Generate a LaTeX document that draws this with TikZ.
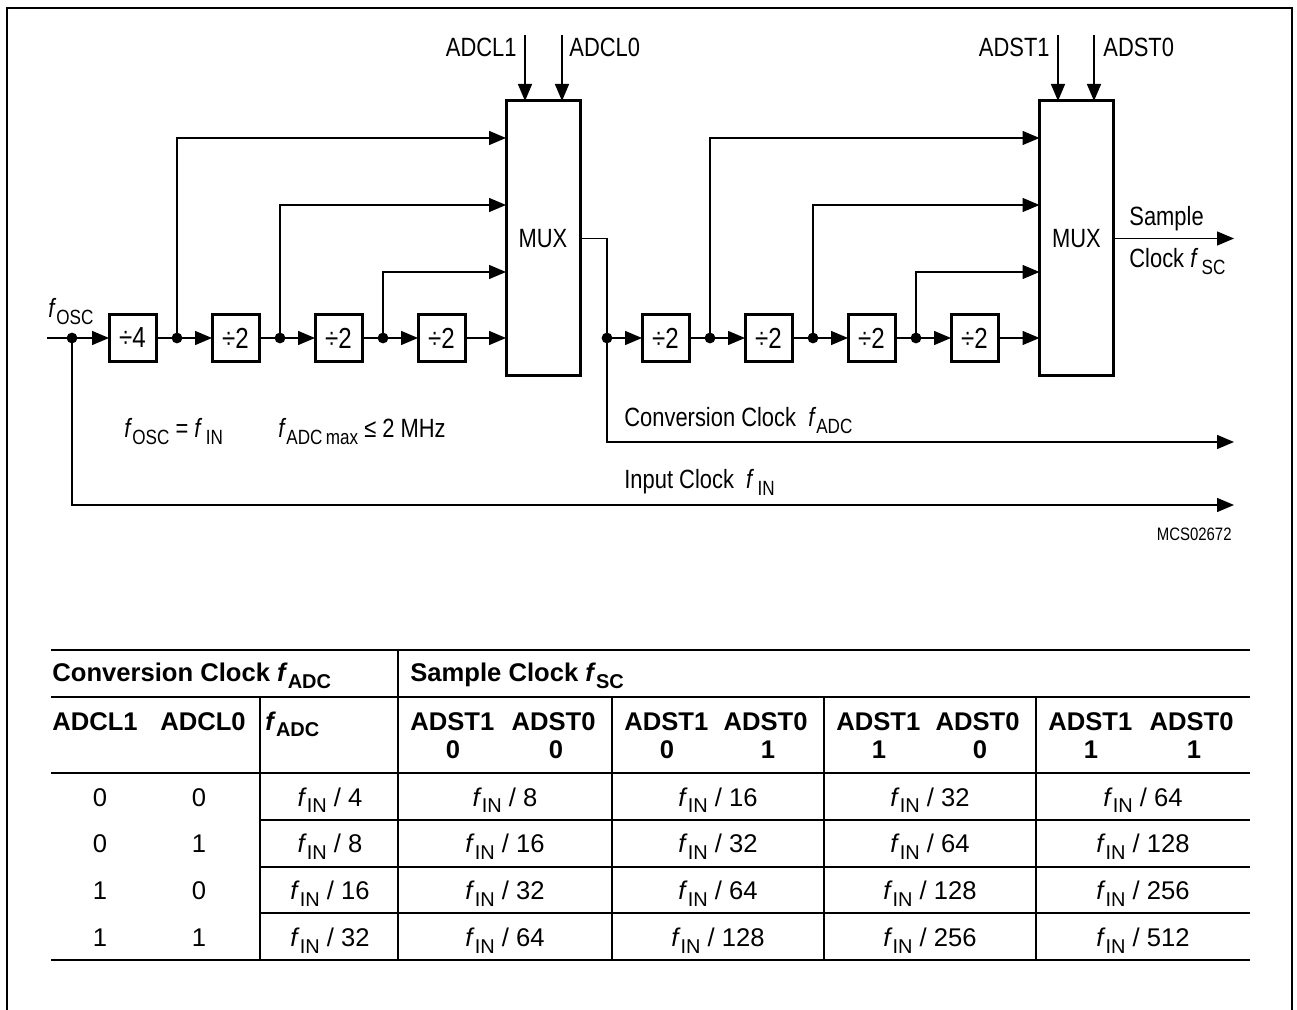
\documentclass[tikz,border=0pt]{standalone}
\usepackage{fontspec}
\usepackage{graphicx}
\setmainfont{Liberation Sans}
\newfontfamily\narrowsf[FakeStretch=0.83]{Liberation Sans}
\usetikzlibrary{arrows.meta, positioning, calc}

\newcommand{\fq}[1]{\textit{f}\raisebox{-0.5ex}{\scalebox{0.78}{#1}}}

\begin{document}
\begin{tikzpicture}[x=0.5pt, y=-0.5pt, >={Triangle[length=8.5pt,width=7pt]}]
  \tikzstyle{sig} = [line width=0.7pt]
  \tikzstyle{divbox} = [rectangle, draw, line width=1.5pt, minimum width=23.5pt, minimum height=23.5pt, inner sep=0pt, outer sep=0pt, font=\narrowsf\fontsize{14.5}{16}\selectfont]
  \tikzstyle{mux} = [rectangle, draw, line width=1.5pt, minimum width=37pt, minimum height=137.5pt, inner sep=0pt, outer sep=0pt, font=\narrowsf\fontsize{13.2}{15}\selectfont]
  \tikzstyle{dot} = [circle, fill, inner sep=0pt, outer sep=0pt, minimum size=5.4pt]
  \tikzstyle{lbl} = [inner sep=0pt, font=\narrowsf\fontsize{13.2}{15}\selectfont]
  \tikzstyle{hdr} = [inner sep=0pt, font=\bfseries\fontsize{12.8}{14}\selectfont]
  \tikzstyle{cell} = [inner sep=0pt, anchor=base, font=\fontsize{12.8}{14}\selectfont]
  \tikzstyle{rule} = [line width=1pt]

  \useasboundingbox (0,0) rectangle (1297,1010);
  \draw[line width=1.2pt] (7,1010) -- (7,8) -- (1292,8) -- (1292,1010);

  % multiplexers
  \node[mux] (mux1) at (543,238.5) {MUX};
  \node[mux] (mux2) at (1076.5,238.5) {MUX};

  % divider chains
  \node[divbox] (q1) at (132.5,338) {÷4};
  \node[divbox, right=28pt of q1] (q2) {÷2};
  \node[divbox, right=28pt of q2] (q3) {÷2};
  \node[divbox, right=28pt of q3] (q4) {÷2};

  \node[divbox] (p1) at (665.5,338) {÷2};
  \node[divbox, right=28pt of p1] (p2) {÷2};
  \node[divbox, right=28pt of p2] (p3) {÷2};
  \node[divbox, right=28pt of p3] (p4) {÷2};

  \node[dot] (d0) at (72,338) {};
  \node[dot, right=7.8pt of q1] (d1) {};
  \node[dot, right=7.8pt of q2] (d2) {};
  \node[dot, right=7.8pt of q3] (d3) {};
  \node[dot] (d4) at (607,338) {};
  \node[dot, right=7.8pt of p1] (e1) {};
  \node[dot, right=7.8pt of p2] (e2) {};
  \node[dot, right=7.8pt of p3] (e3) {};

  \coordinate (osc) at (47,338);
  \coordinate (fsc) at (1234,238.5);
  \coordinate (fadc) at (1234,442);
  \coordinate (fin) at (1234,505);
  \coordinate (sa1) at (525,35);
  \coordinate (sa0) at (562,35);
  \coordinate (sb1) at (1058,35);
  \coordinate (sb0) at (1094,35);

  % labels
  \node[lbl, anchor=base east] (ladcl1) at (517,57) {ADCL1};
  \node[lbl, anchor=base west] (ladcl0) at (569,57) {ADCL0};
  \node[lbl, anchor=base east] (ladst1) at (1050,57) {ADST1};
  \node[lbl, anchor=base west] (ladst0) at (1103,57) {ADST0};
  \node[lbl, anchor=base west] (losc) at (48,318) {\fq{OSC}};
  \node[lbl, anchor=base west] (lsam) at (1129,226) {Sample};
  \node[lbl, anchor=base west] (lclk) at (1129,268) {Clock \fq{\,SC}};
  \node[lbl, anchor=base west] (lconv) at (624,427) {Conversion Clock\ \ \fq{ADC}};
  \node[lbl, anchor=base west] (linp) at (624,489) {Input Clock\ \ \fq{\,IN}};
  \node[lbl, anchor=base west] (leq) at (124,438) {\fq{OSC} = \fq{\,IN}};
  \node[lbl, anchor=base west] (lmax) at (278,438) {\fq{ADC\,max} ≤ 2 MHz};
  \node[lbl, anchor=base east, font=\narrowsf\fontsize{9}{10}\selectfont] (lmcs) at (1232,541) {MCS02672};

  % connections
  \draw[sig, ->] (osc) -- (q1);
  \draw[sig, ->] (q1) -- (q2);
  \draw[sig, ->] (q2) -- (q3);
  \draw[sig, ->] (q3) -- (q4);
  \draw[sig, ->] (q4) -- (q4 -| mux1.west);
  \draw[sig, ->] (d1.center) |- (mux1.west |- 0,138);
  \draw[sig, ->] (d2.center) |- (mux1.west |- 0,205);
  \draw[sig, ->] (d3.center) |- (mux1.west |- 0,272);
  \draw[sig, ->] (mux1.east) -| (d4.center) |- (fadc);
  \draw[sig, ->] (d4) -- (p1);
  \draw[sig, ->] (p1) -- (p2);
  \draw[sig, ->] (p2) -- (p3);
  \draw[sig, ->] (p3) -- (p4);
  \draw[sig, ->] (p4) -- (p4 -| mux2.west);
  \draw[sig, ->] (e1.center) |- (mux2.west |- 0,138);
  \draw[sig, ->] (e2.center) |- (mux2.west |- 0,205);
  \draw[sig, ->] (e3.center) |- (mux2.west |- 0,272);
  \draw[sig, ->] (mux2) -- (fsc);
  \draw[sig, ->] (d0.center) |- (fin);
  \draw[sig, ->] (sa1) -- (sa1 |- mux1.north);
  \draw[sig, ->] (sa0) -- (sa0 |- mux1.north);
  \draw[sig, ->] (sb1) -- (sb1 |- mux2.north);
  \draw[sig, ->] (sb0) -- (sb0 |- mux2.north);

  % table
  \draw[rule] (51,650) -- (1250,650);
  \draw[rule] (51,697) -- (1250,697);
  \draw[rule] (51,773) -- (1250,773);
  \draw[rule] (260,820) -- (1250,820);
  \draw[rule] (260,867) -- (1250,867);
  \draw[rule] (260,913) -- (1250,913);
  \draw[rule] (51,960) -- (1250,960);
  \draw[rule] (398,650) -- (398,960);
  \foreach \xs in {260,612,824,1036}
    \draw[rule] (\xs,697) -- (\xs,960);

  \node[hdr, anchor=base west] (hconv) at (52,682) {Conversion Clock \fq{ADC}};
  \node[hdr, anchor=base west] (hsamp) at (410,682) {Sample Clock \fq{SC}};
  \node[hdr, anchor=base west] (hcl1) at (52,730) {ADCL1};
  \node[hdr, anchor=base west] (hcl0) at (160,730) {ADCL0};
  \node[hdr, anchor=base west] (hadc) at (265,730) {\fq{ADC}};
  \foreach \c/\xl/\xr/\bh/\bl in {0/398/612/0/0, 1/612/824/0/1, 2/824/1036/1/0, 3/1036/1250/1/1} {
    \node[hdr, anchor=base west] (st1-\c) at (\xl+12,730) {ADST1};
    \node[hdr, anchor=base east] (st0-\c) at (\xr-16,730) {ADST0};
    \node[hdr, anchor=base] (bh-\c) at (\xl+55,758) {\bh};
    \node[hdr, anchor=base] (bl-\c) at (\xr-56,758) {\bl};
  }
  \foreach \r in {0,...,3} {
    \pgfmathsetmacro{\yy}{806+46.75*\r}
    \pgfmathtruncatemacro{\hi}{floor(\r/2)}
    \pgfmathtruncatemacro{\lo}{mod(\r,2)}
    \pgfmathtruncatemacro{\fa}{4*2^\r}
    \node[cell] (cl1-\r) at (100,\yy) {\hi};
    \node[cell] (cl0-\r) at (199,\yy) {\lo};
    \node[cell] (fa-\r) at (330,\yy) {\fq{IN} / \fa};
    \foreach \c/\xc in {0/505,1/718,2/930,3/1143} {
      \pgfmathtruncatemacro{\fs}{8*2^(\r+\c)}
      \node[cell] (fs-\r-\c) at (\xc,\yy) {\fq{IN} / \fs};
    }
  }
\end{tikzpicture}
\end{document}
